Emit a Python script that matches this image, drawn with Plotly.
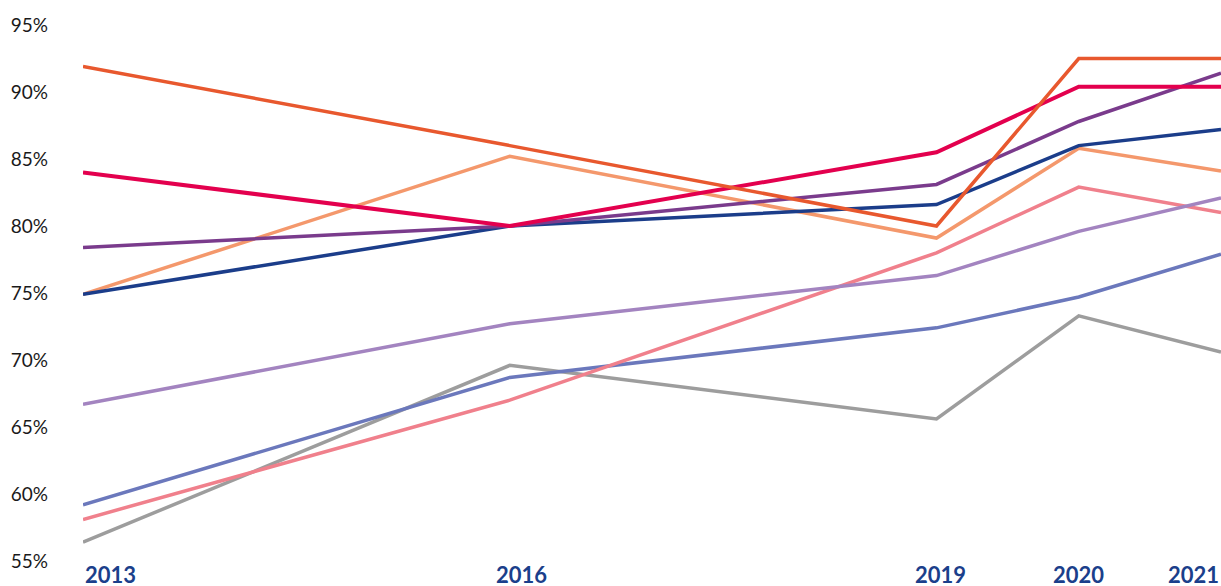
import plotly.graph_objects as go

years = [2013, 2016, 2019, 2020, 2021]
year_labels = ["2013", "2016", "2019", "2020", "2021"]

series_gray = [56.4, 69.6, 65.6, 73.3, 70.6]
series_slate = [59.2, 68.7, 72.4, 74.7, 77.9]
series_pink = [58.1, 67.0, 78.0, 82.9, 81.0]
series_lilac = [66.7, 72.7, 76.3, 79.6, 82.1]
series_peach = [74.9, 85.2, 79.1, 85.8, 84.1]
series_navy = [74.9, 80.0, 81.6, 86.0, 87.2]
series_purple = [78.4, 80.0, 83.1, 87.8, 91.4]
series_crimson = [84.0, 80.0, 85.5, 90.4, 90.4]
series_orange = [91.9, 86.0, 80.0, 92.5, 92.5]

y_ticks = [55, 60, 65, 70, 75, 80, 85, 90, 95]
y_tick_labels = ["55%", "60%", "65%", "70%", "75%", "80%", "85%", "90%", "95%"]

lines = [
    (series_gray, "#9d9d9d", 3.5),
    (series_slate, "#6b78bc", 3.5),
    (series_pink, "#f0808c", 3.5),
    (series_lilac, "#a384c0", 3.5),
    (series_peach, "#f4986c", 3.5),
    (series_navy, "#1b3d8a", 3.5),
    (series_purple, "#7a3b8c", 3.5),
    (series_crimson, "#e3004e", 4),
    (series_orange, "#e8582e", 3.5),
]

fig = go.Figure()
for vals, color, w in lines:
    fig.add_trace(go.Scatter(x=years, y=vals, mode="lines",
                             line=dict(color=color, width=w),
                             showlegend=False, hoverinfo="skip"))

anchors = ["left", "center", "center", "center", "right"]
xshifts = [0, 12, 4, 0, 0]
for yr, lab, anc, xs in zip(years, year_labels, anchors, xshifts):
    fig.add_annotation(x=yr, y=0, xref="x", yref="paper", text="<b>" + lab + "</b>",
                       showarrow=False, xanchor=anc, yanchor="top", yshift=2, xshift=xs,
                       font=dict(family="Lato", size=22, color="#1b3f8b"))

fig.update_layout(
    width=1221, height=586,
    margin=dict(l=83, r=0, t=25, b=25),
    paper_bgcolor="white", plot_bgcolor="white",
    xaxis=dict(range=[2013, 2021], showgrid=False, zeroline=False,
               showticklabels=False, showline=False, ticks=""),
    yaxis=dict(range=[55, 95], tickvals=y_ticks, ticktext=y_tick_labels,
               showgrid=False, zeroline=False, showline=False, ticks="",
               ticklabelstandoff=34,
               tickfont=dict(family="Lato", size=19, color="#1a1a1a")),
)

fig.write_html("out.html", config={"displayModeBar": False},
               post_script="document.body.style.margin='0';document.body.style.overflow='hidden';")
